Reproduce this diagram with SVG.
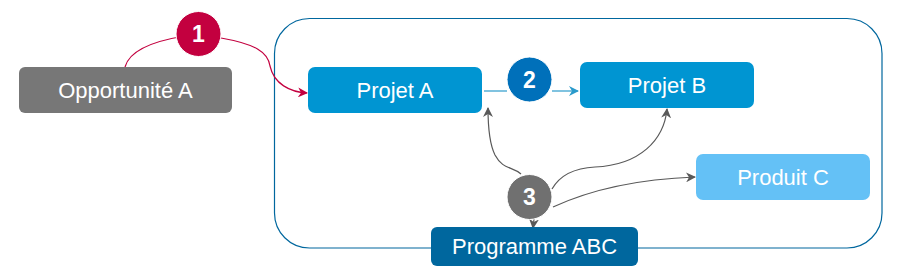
<svg xmlns="http://www.w3.org/2000/svg" width="902" height="279" viewBox="0 0 902 279">
<defs>
<style>
.t{font-family:"Liberation Sans",Arial,sans-serif;font-size:22px;fill:#fff;text-anchor:middle;dominant-baseline:central}
.n{font-family:"Liberation Sans",Arial,sans-serif;font-size:23px;font-weight:bold;fill:#fff;text-anchor:middle;dominant-baseline:central}
.c{fill:none;stroke-width:1.2}
</style>
<marker id="ar1" viewBox="0 0 10 10" refX="9" refY="5" markerWidth="10" markerHeight="10" markerUnits="userSpaceOnUse" orient="auto">
<path d="M0,0 L10,5 L0,10 L3,5 Z" fill="#C3003F"/>
</marker>
<marker id="ar2" viewBox="0 0 10 10" refX="9" refY="5" markerWidth="10" markerHeight="10" markerUnits="userSpaceOnUse" orient="auto">
<path d="M0,0 L10,5 L0,10 L3,5 Z" fill="#2A9ACB"/>
</marker>
<marker id="ar3" viewBox="0 0 10 10" refX="9" refY="5" markerWidth="10" markerHeight="10" markerUnits="userSpaceOnUse" orient="auto">
<path d="M0,0 L10,5 L0,10 L3,5 Z" fill="#595959"/>
</marker>
</defs>
<g id="programme-frame">
<rect x="274.5" y="18.5" width="607.5" height="229.5" rx="35" fill="none" stroke="#00679E" stroke-width="1.2"/>
</g>
<g id="connectors">
<path class="c" stroke="#C3003F" d="M125,67 C130,48 160,40 185,36"/>
<path class="c" stroke="#C3003F" marker-end="url(#ar1)" d="M221,38 C255,44 268,52 270,66 C274,84 290,92 307,93"/>
<path class="c" stroke="#2A9ACB" d="M484,91 L507,91"/>
<path class="c" stroke="#2A9ACB" marker-end="url(#ar2)" d="M552,91 L578,91"/>
<path class="c" stroke="#595959" marker-end="url(#ar3)" d="M521,174 C512,166 503,170 495,155 C489,143 488,125 488,108"/>
<path class="c" stroke="#595959" marker-end="url(#ar3)" d="M552,189 C560,175 575,168 595,167 C640,165 664,140 667,109"/>
<path class="c" stroke="#595959" marker-end="url(#ar3)" d="M553,207 C590,190 640,179 695,177"/>
<path class="c" stroke="#595959" marker-end="url(#ar3)" d="M534,219 L533,228"/>
</g>
<g id="node-opportunite-a">
<rect x="19" y="67" width="213" height="46" rx="6" fill="#777777"/>
<text class="t" x="125.5" y="90">Opportunité A</text>
</g>
<g id="node-projet-a">
<rect x="308" y="67" width="174" height="46" rx="7" fill="#0095D2"/>
<text class="t" x="395" y="90">Projet A</text>
</g>
<g id="node-projet-b">
<rect x="580" y="62" width="174" height="46" rx="7" fill="#0095D2"/>
<text class="t" x="667" y="85">Projet B</text>
</g>
<g id="node-produit-c">
<rect x="696" y="154" width="174" height="46" rx="7" fill="#64C1F6"/>
<text class="t" x="783" y="177">Produit C</text>
</g>
<g id="node-programme-abc">
<rect x="431" y="227" width="207" height="39" rx="6" fill="#00679E"/>
<text class="t" x="534.5" y="246">Programme ABC</text>
</g>
<g id="badge-1">
<circle cx="198.5" cy="34" r="22.5" fill="#C3003F" stroke="#fff" stroke-width="1"/>
<text class="n" x="198.5" y="34">1</text>
</g>
<g id="badge-2">
<circle cx="529.5" cy="79.5" r="22.5" fill="#0070BA" stroke="#fff" stroke-width="1"/>
<text class="n" x="529.5" y="79.5">2</text>
</g>
<g id="badge-3">
<circle cx="529.5" cy="197" r="22.5" fill="#707070" stroke="#fff" stroke-width="1"/>
<text class="n" x="529.5" y="197">3</text>
</g>
</svg>
